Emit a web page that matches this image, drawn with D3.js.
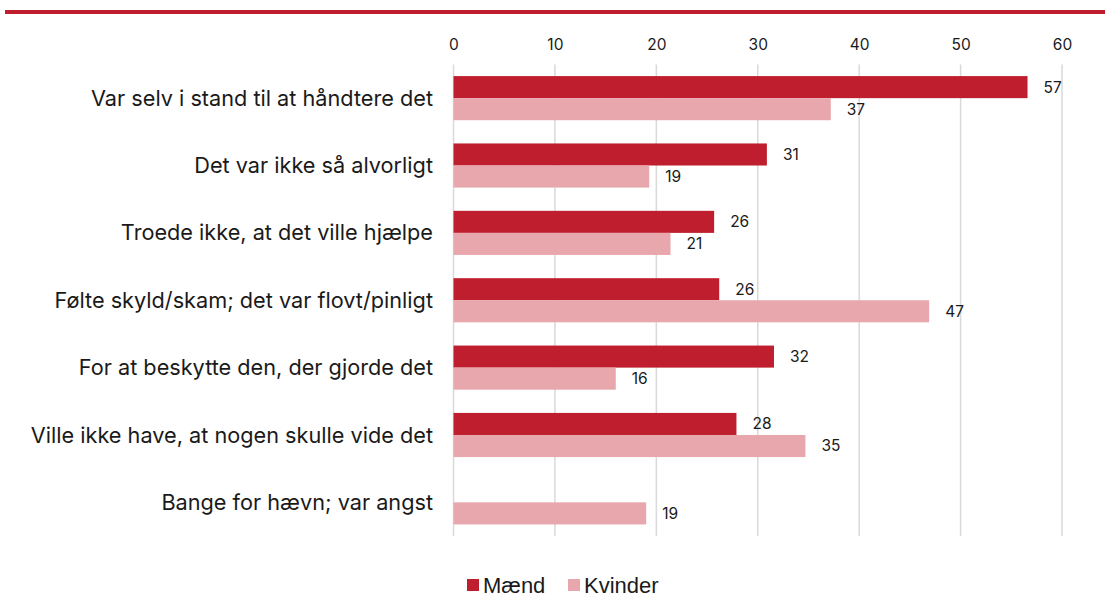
<!DOCTYPE html>
<html><head><meta charset="utf-8">
<script src="https://cdn.jsdelivr.net/npm/d3@7"></script>
<style>body{margin:0;background:#fff;}svg{display:block;}</style>
</head><body>
<svg id="c" width="1105" height="597"></svg>
<script>
const categories = ["Var selv i stand til at håndtere det","Det var ikke så alvorligt","Troede ikke, at det ville hjælpe","Følte skyld/skam; det var flovt/pinligt","For at beskytte den, der gjorde det","Ville ikke have, at nogen skulle vide det","Bange for hævn; var angst"];
const series = ["Mænd","Kvinder"];
const maend = [56.6, 30.9, 25.7, 26.2, 31.6, 27.9, null];
const kvinder = [37.2, 19.3, 21.4, 46.9, 16.0, 34.7, 19.0];
const ticks = [0,10,20,30,40,50,60];
const colors = ["#be1e2d","#e8a7ac"];

const svg = d3.select("#c");
svg.append("rect").attr("x",5).attr("y",10).attr("width",1100).attr("height",4).attr("fill","#be1e2d");

const x = d3.scaleLinear().domain([0,60]).range([453.5,1062]);
const y = d3.scaleBand().domain(categories).range([64.5,536]).paddingInner(0.345).paddingOuter(0.172);
const sub = d3.scaleBand().domain(series).range([0,y.bandwidth()]);

const font = "Inter, 'Noto Sans', sans-serif";
svg.append("g").selectAll("line").data(ticks).join("line")
  .attr("x1",d=>x(d)).attr("x2",d=>x(d)).attr("y1",64.5).attr("y2",536)
  .attr("stroke","#d9d9d9").attr("stroke-width",1.5);
const ax = svg.append("g").attr("transform","translate(0,55)")
  .call(d3.axisTop(x).tickValues(ticks).tickSize(0).tickPadding(5));
ax.select(".domain").remove();
ax.selectAll("text").attr("font-family",font).attr("font-size",15.5).attr("fill","#1a1a1a");

const data = [];
categories.forEach((c,i)=>{
  data.push({c, s:"Mænd", v:maend[i]});
  data.push({c, s:"Kvinder", v:kvinder[i]});
});
const valid = data.filter(d=>d.v!=null);
svg.append("g").selectAll("rect").data(valid).join("rect")
  .attr("x",x(0)).attr("y",d=>y(d.c)+sub(d.s))
  .attr("width",d=>x(d.v)-x(0)).attr("height",sub.bandwidth())
  .attr("fill",d=>colors[series.indexOf(d.s)]);
svg.append("g").selectAll("text").data(valid).join("text")
  .attr("x",d=>x(d.v)+16).attr("y",d=>y(d.c)+sub(d.s)+sub.bandwidth()/2)
  .attr("dy","0.35em").attr("font-family",font).attr("font-size",15.5).attr("fill","#1a1a1a")
  .text(d=>Math.round(d.v));

svg.append("g").selectAll("text").data(categories).join("text")
  .attr("x",433).attr("y",d=>y(d)+y.bandwidth()/2).attr("dy","0.35em")
  .attr("text-anchor","end").attr("font-family",font).attr("font-size",21.7).attr("fill","#1a1a1a")
  .text(d=>d);

const lg = svg.append("g");
const lx = [467, 568];
series.forEach((s,i)=>{
  lg.append("rect").attr("x",lx[i]).attr("y",579).attr("width",12).attr("height",12).attr("fill",colors[i]);
  lg.append("text").attr("x",lx[i]+16).attr("y",585).attr("dy","0.35em")
    .attr("font-family","'Liberation Sans', Arial, sans-serif").attr("font-size",22).attr("fill","#1a1a1a").text(s);
});
</script>
</body></html>
